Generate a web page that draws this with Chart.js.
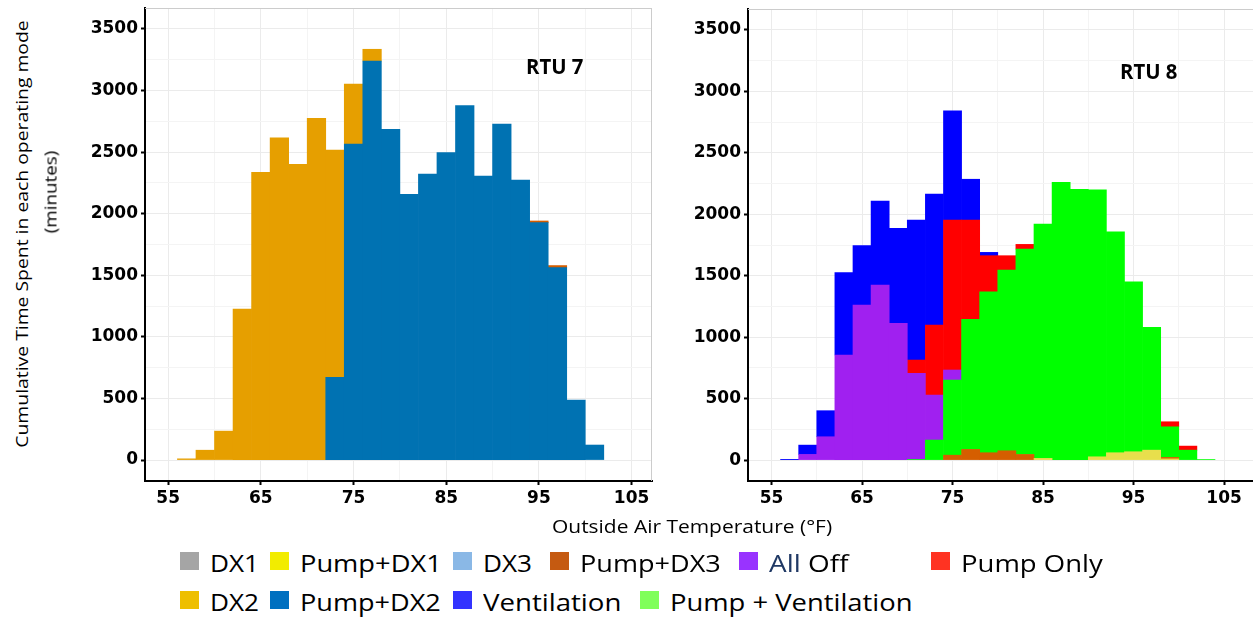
<!DOCTYPE html>
<html>
<head>
<meta charset="utf-8">
<title>RTU operating modes vs outside air temperature</title>
<script src="https://cdn.jsdelivr.net/npm/chart.js@4.4.1/dist/chart.umd.min.js"></script>
<style>
  body { margin: 0; background: #fff; }
  #page { position: relative; width: 1253px; height: 617px; overflow: hidden; font-family: 'Open Sans', sans-serif; color: #000; }
  .box { position: absolute; }
  .txt { position: absolute; white-space: nowrap; line-height: 1; }
  .swatch { position: absolute; width: 19px; height: 18px; }
</style>
</head>
<body>
<div id="page">
  <div class="box" style="left:60px;top:0;width:600px;height:520px"><canvas id="rtu7"></canvas></div>
  <div class="box" style="left:663px;top:0;width:590px;height:520px"><canvas id="rtu8"></canvas></div>
</div>
<script>
// centres of the 2 °F outside-air-temperature bins
const tempBins = [57, 59, 61, 63, 65, 67, 69, 71, 73, 75, 77, 79, 81, 83, 85, 87, 89, 91, 93, 95, 97, 99, 101, 103];

// axis ticks: grid every 5 °F / 250 min, labels every 10 °F / 500 min
const xGridTicks = [55, 60, 65, 70, 75, 80, 85, 90, 95, 100, 105];
const xLabelTicks = [55, 65, 75, 85, 95, 105];
const yGridTicks = [0, 250, 500, 750, 1000, 1250, 1500, 1750, 2000, 2250, 2500, 2750, 3000, 3250, 3500];
const yLabelTicks = [0, 500, 1000, 1500, 2000, 2500, 3000, 3500];

// RTU 7 minutes per mode
const rtu7PumpDx2 = [0, 0, 0, 0, 0, 0, 0, 0, 671, 2566, 3240, 2685, 2157, 2322, 2496, 2877, 2306, 2728, 2274, 1927, 1562, 487, 122, 0];
const rtu7PumpDx3 = [0, 0, 0, 0, 0, 0, 0, 0, 0, 0, 0, 0, 0, 0, 0, 0, 0, 0, 0, 14, 17, 0, 0, 0];
const rtu7Dx2     = [10, 80, 235, 1225, 2335, 2615, 2400, 2775, 1846, 487, 95, 0, 0, 0, 0, 0, 0, 0, 0, 0, 0, 0, 0, 0];

// RTU 8 minutes per mode
const rtu8PumpDx1  = [0, 0, 0, 0, 0, 0, 0, 0, 0, 0, 0, 0, 0, 0, 14, 0, 0, 27, 60, 68, 81, 10, 0, 0];
const rtu8PumpDx3  = [0, 0, 0, 0, 0, 0, 0, 0, 0, 40, 87, 60, 76, 46, 0, 0, 0, 0, 0, 0, 0, 12, 0, 0];
const rtu8PumpVent = [0, 0, 0, 0, 0, 0, 0, 5, 163, 611, 1058, 1310, 1470, 1671, 1907, 2260, 2203, 2171, 1798, 1383, 999, 249, 81, 5];
const rtu8AllOff   = [0, 46, 190, 855, 1262, 1424, 1112, 700, 366, 82, 0, 0, 0, 0, 0, 0, 0, 0, 0, 0, 0, 0, 0, 0];
const rtu8PumpOnly = [0, 0, 0, 0, 0, 0, 0, 109, 570, 1220, 808, 293, 117, 38, 0, 0, 0, 0, 0, 0, 0, 41, 33, 0];
const rtu8Vent     = [6, 76, 212, 670, 483, 684, 774, 1139, 1066, 888, 332, 27, 0, 0, 0, 0, 0, 0, 0, 0, 0, 0, 0, 0];

// bar fill per mode
const barColors = {
  'Pump+DX1': '#e8df4c', 'Pump+DX2': '#0072b2', 'Pump+DX3': '#d55e00', 'DX2': '#e69f00',
  'Pump + Ventilation': '#00ff00', 'All Off': '#a020f0', 'Pump Only': '#ff0000', 'Ventilation': '#0000ff'
};

const tickFont = { family: 'DejaVu Sans', size: 17, weight: 'bold' };

// light panel border on top / right, like a ggplot panel
const panelFrame = {
  id: 'panelFrame',
  beforeDatasetsDraw(chart, args, opts) {
    const { ctx, chartArea: a } = chart;
    ctx.save();
    ctx.strokeStyle = '#cccccc';
    ctx.lineWidth = 1;
    ctx.beginPath();
    ctx.moveTo(a.left, a.top + 0.5);
    ctx.lineTo(a.right, a.top + 0.5);
    if (opts.right) {
      ctx.moveTo(a.right - 0.5, a.top);
      ctx.lineTo(a.right - 0.5, a.bottom);
    }
    ctx.stroke();
    ctx.restore();
  }
};

function histChart(id, series, xMin, xMax, padTop, padRight, frameRight) {
  return new Chart(document.getElementById(id), {
    type: 'bar',
    data: {
      datasets: series.map(s => ({
        label: s[0],
        data: tempBins.map((x, i) => ({ x: x, y: s[1][i] || null })),
        backgroundColor: barColors[s[0]],
        borderWidth: 0,
        grouped: false,
        barPercentage: 1,
        categoryPercentage: 1
      }))
    },
    options: {
      responsive: true,
      maintainAspectRatio: false,
      animation: false,
      layout: { padding: { top: padTop, right: padRight, left: 0, bottom: 0 } },
      plugins: { legend: { display: false }, tooltip: { enabled: false }, panelFrame: { right: frameRight } },
      scales: {
        x: {
          type: 'linear', min: xMin, max: xMax, offset: false,
          afterBuildTicks: s => { s.ticks = xGridTicks.map(v => ({ value: v })); },
          afterFit: s => { s.height = 39; s.paddingLeft = 0; s.paddingRight = 0; },
          ticks: { callback: v => xLabelTicks.includes(v) ? v : '', font: tickFont, color: '#000', padding: 3, maxRotation: 0, autoSkip: false },
          grid: {
            offset: false,
            color: c => xLabelTicks.includes(c.tick.value) ? '#ebebeb' : '#f4f4f4',
            tickLength: 4, tickWidth: 2,
            tickColor: c => xLabelTicks.includes(c.tick.value) ? '#000' : 'rgba(0,0,0,0)'
          },
          border: { color: '#000', width: 2 }
        },
        y: {
          stacked: true, min: -170, max: 3670,
          afterBuildTicks: s => { s.ticks = yGridTicks.map(v => ({ value: v })); },
          afterFit: s => { s.width = 85; s.paddingTop = 0; s.paddingBottom = 0; },
          ticks: { callback: v => yLabelTicks.includes(v) ? v : '', font: tickFont, color: '#000', padding: 3, autoSkip: false },
          grid: {
            color: c => yLabelTicks.includes(c.tick.value) ? '#ebebeb' : '#f4f4f4',
            tickLength: 4, tickWidth: 2,
            tickColor: c => yLabelTicks.includes(c.tick.value) ? '#000' : 'rgba(0,0,0,0)'
          },
          border: { color: '#000', width: 2 }
        }
      }
    },
    plugins: [panelFrame]
  });
}

// stacking order: first entry sits at the bottom
histChart('rtu7', [
  ['Pump+DX2', rtu7PumpDx2],
  ['Pump+DX3', rtu7PumpDx3],
  ['DX2', rtu7Dx2]
], 52.5, 107.2, 8, 8, true);

histChart('rtu8', [
  ['Pump+DX1', rtu8PumpDx1],
  ['Pump+DX3', rtu8PumpDx3],
  ['Pump + Ventilation', rtu8PumpVent],
  ['All Off', rtu8AllOff],
  ['Pump Only', rtu8PumpOnly],
  ['Ventilation', rtu8Vent]
], 52.4, 108.2, 9, 0, false);

// ---- text around the plots (titles, panel tags, legend) ----
const page = document.getElementById('page');

function addText(html, css, width, rotate) {
  const el = document.createElement('div');
  el.className = 'txt';
  el.innerHTML = html;
  Object.assign(el.style, css);
  page.appendChild(el);
  const s = width / el.offsetWidth;
  if (rotate) {
    el.style.transform = 'translate(-50%, -50%) rotate(-90deg) scaleX(' + s + ')';
  } else {
    el.style.transformOrigin = 'left top';
    el.style.transform = 'scaleX(' + s + ')';
  }
  return el;
}

function addSwatch(x, y, color) {
  const el = document.createElement('div');
  el.className = 'swatch';
  el.style.left = x + 'px';
  el.style.top = y + 'px';
  el.style.background = color;
  page.appendChild(el);
}

// legend entries: label, swatch colour, left of swatch, row, text width
const legendItems = [
  ['DX1', '#a5a5a5', 180, 0, 49],
  ['Pump+DX1', '#f2ec00', 270, 0, 142],
  ['DX3', '#8ab8e6', 453, 0, 49],
  ['Pump+DX3', '#c55a11', 550, 0, 141],
  ['<span style="color:#1f3864">All</span> Off', '#9933ff', 739, 0, 79],
  ['Pump Only', '#ff3322', 931, 0, 142],
  ['DX2', '#eebf00', 180, 1, 49],
  ['Pump+DX2', '#0070c0', 270, 1, 141],
  ['Ventilation', '#3333ff', 453, 1, 138],
  ['Pump + Ventilation', '#80ff5a', 640, 1, 243]
];

document.fonts.ready.then(() => {
  addText('RTU 7', { left: '526px', top: '56px', fontSize: '21px', fontWeight: 'bold' }, 57);
  addText('RTU 8', { left: '1120px', top: '61px', fontSize: '21px', fontWeight: 'bold' }, 57);

  addText('Outside Air Temperature (°F)', { left: '552px', top: '517px', fontSize: '19px' }, 280);

  addText('Cumulative Time Spent in each operating mode', { left: '21px', top: '234px', fontSize: '17px' }, 427, true);
  addText('(minutes)', { left: '50px', top: '192px', fontSize: '17px' }, 83, true);

  legendItems.forEach(it => {
    const rowTop = it[3] === 0 ? 552 : 591;
    addSwatch(it[2], rowTop, it[1]);
    addText(it[0], { left: (it[2] + 30) + 'px', top: (rowTop - 1) + 'px', fontSize: '24px' }, it[4]);
  });
});
</script>
</body>
</html>
